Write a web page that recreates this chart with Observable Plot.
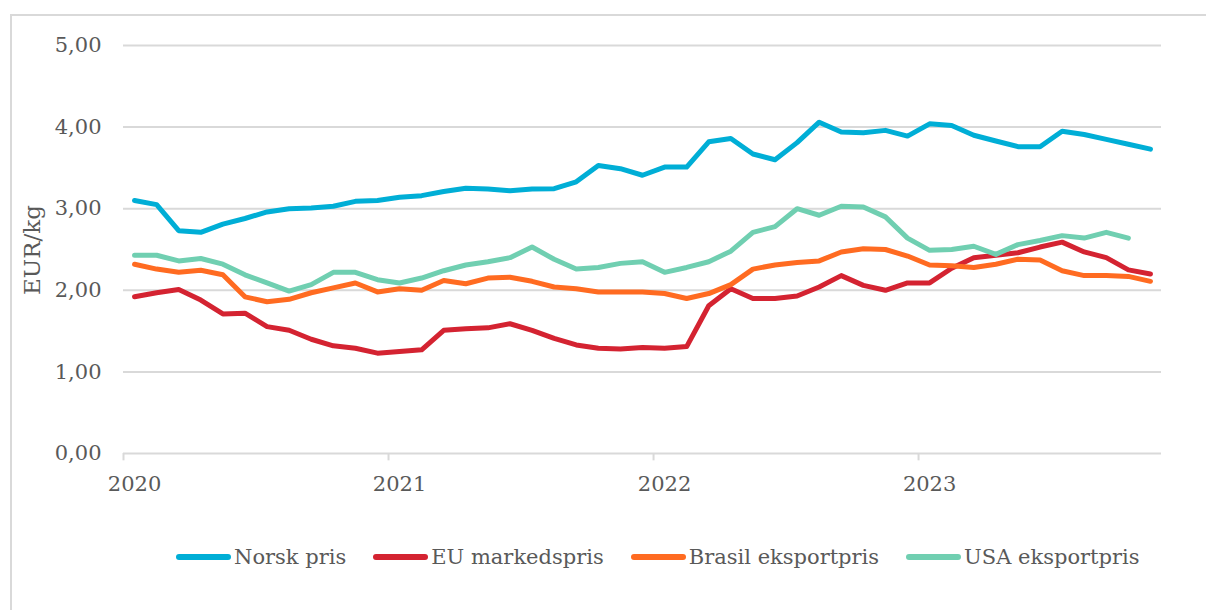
<!DOCTYPE html>
<html>
<head>
<meta charset="utf-8">
<script src="https://cdn.jsdelivr.net/npm/d3@7"></script>
<script src="https://cdn.jsdelivr.net/npm/@observablehq/plot@0.6"></script>
<style>
  html, body { margin: 0; padding: 0; background: #fff; }
  body { width: 1206px; height: 610px; position: relative; overflow: hidden; font-family: "DejaVu Serif", serif; }
  #frame { position: absolute; left: 10px; top: 14px; width: 1300px; height: 700px; border-left: 2px solid #d9d9d9; border-top: 2px solid #d9d9d9; }
  #chart { position: absolute; left: 0; top: 0; }
  #ylab { position: absolute; left: 32px; top: 250px; transform: translate(-50%, -50%) rotate(-90deg); font-size: 23px; color: #595959; white-space: nowrap; }
  #legend { position: absolute; left: 176px; top: 545px; display: flex; align-items: center; font-size: 21px; color: #595959; }
  .item { display: flex; align-items: center; margin-right: 27px; }
  .sw { width: 55px; height: 6px; border-radius: 3px; margin-right: 3px; }
</style>
</head>
<body>
<div id="frame"></div>
<div id="chart"></div>
<div id="ylab">EUR/kg</div>
<div id="legend"></div>
<script>
const seriesNames = ["Norsk pris", "EU markedspris", "Brasil eksportpris", "USA eksportpris"];
const seriesColors = ["#00aed6", "#d42331", "#ff6b21", "#70cfb1"];
const yearLabels = ["2020", "2021", "2022", "2023"];
const yTicks = [0, 1, 2, 3, 4, 5];

// Monthly values, Jan 2020 onwards
const norsk = [3.10, 3.05, 2.73, 2.71, 2.81, 2.88, 2.96, 3.00, 3.01, 3.03, 3.09, 3.10,
  3.14, 3.16, 3.21, 3.25, 3.24, 3.22, 3.24, 3.245, 3.33, 3.53, 3.49, 3.41,
  3.51, 3.51, 3.82, 3.86, 3.67, 3.60, 3.81, 4.06, 3.94, 3.93, 3.96, 3.89,
  4.04, 4.02, 3.90, 3.83, 3.76, 3.76, 3.95, 3.91, 3.85, 3.79, 3.73];
const eu = [1.92, 1.97, 2.01, 1.88, 1.71, 1.72, 1.555, 1.51, 1.40, 1.32, 1.29, 1.23,
  1.25, 1.27, 1.51, 1.53, 1.54, 1.59, 1.51, 1.41, 1.33, 1.29, 1.28, 1.30,
  1.29, 1.31, 1.81, 2.02, 1.90, 1.90, 1.93, 2.04, 2.18, 2.06, 2.00, 2.09,
  2.09, 2.27, 2.40, 2.43, 2.46, 2.53, 2.59, 2.47, 2.40, 2.25, 2.20];
const brasil = [2.32, 2.26, 2.22, 2.245, 2.19, 1.92, 1.86, 1.89, 1.97, 2.03, 2.09, 1.98,
  2.02, 2.00, 2.12, 2.08, 2.15, 2.16, 2.11, 2.04, 2.02, 1.98, 1.98, 1.98,
  1.96, 1.90, 1.96, 2.07, 2.26, 2.31, 2.34, 2.36, 2.47, 2.51, 2.50, 2.42,
  2.31, 2.30, 2.28, 2.32, 2.38, 2.37, 2.24, 2.18, 2.18, 2.17, 2.11];
const usa = [2.43, 2.43, 2.36, 2.39, 2.32, 2.19, 2.09, 1.99, 2.07, 2.22, 2.22, 2.13,
  2.09, 2.15, 2.24, 2.31, 2.35, 2.40, 2.53, 2.38, 2.26, 2.28, 2.33, 2.35,
  2.22, 2.28, 2.35, 2.48, 2.71, 2.78, 3.00, 2.92, 3.03, 3.02, 2.90, 2.64,
  2.49, 2.50, 2.54, 2.44, 2.56, 2.61, 2.67, 2.64, 2.71, 2.64];

const allSeries = [norsk, eu, brasil, usa];
const rows = [];
allSeries.forEach((vals, s) => vals.forEach((v, i) => rows.push({series: seriesNames[s], month: i + 0.5, value: v})));
const nMonths = norsk.length;

const chart = Plot.plot({
  width: 1206,
  height: 500,
  marginLeft: 123,
  marginRight: 45,
  marginTop: 45,
  marginBottom: 47,
  style: {fontFamily: "DejaVu Serif, serif", fontSize: "21px", color: "#595959", background: "transparent"},
  x: {domain: [0, nMonths], axis: null},
  y: {domain: [0, 5], axis: null},
  color: {domain: seriesNames, range: seriesColors},
  marks: [
    Plot.ruleY(yTicks, {stroke: "#d9d9d9", strokeWidth: 2}),
    Plot.ruleX(yearLabels.map((d, k) => k * 12), {y1: 0, y2: -0.09, stroke: "#d9d9d9", strokeWidth: 2}),
    Plot.text(yTicks, {x: 0, y: d => d, text: d => d.toFixed(2).replace(".", ","), textAnchor: "end", dx: -22, fill: "#595959", fontSize: 21}),
    Plot.text(yearLabels, {x: (d, k) => k * 12 + 0.5, y: 0, text: d => d, dy: 31, fill: "#595959", fontSize: 21}),
    Plot.line(rows, {x: "month", y: "value", z: "series", stroke: "series", strokeWidth: 5, strokeLinejoin: "round", strokeLinecap: "round"})
  ]
});
document.getElementById("chart").appendChild(chart);

const legend = document.getElementById("legend");
seriesNames.forEach((name, s) => {
  const item = document.createElement("div");
  item.className = "item";
  const sw = document.createElement("div");
  sw.className = "sw";
  sw.style.background = seriesColors[s];
  const t = document.createElement("span");
  t.textContent = name;
  item.appendChild(sw);
  item.appendChild(t);
  legend.appendChild(item);
});
</script>
</body>
</html>
